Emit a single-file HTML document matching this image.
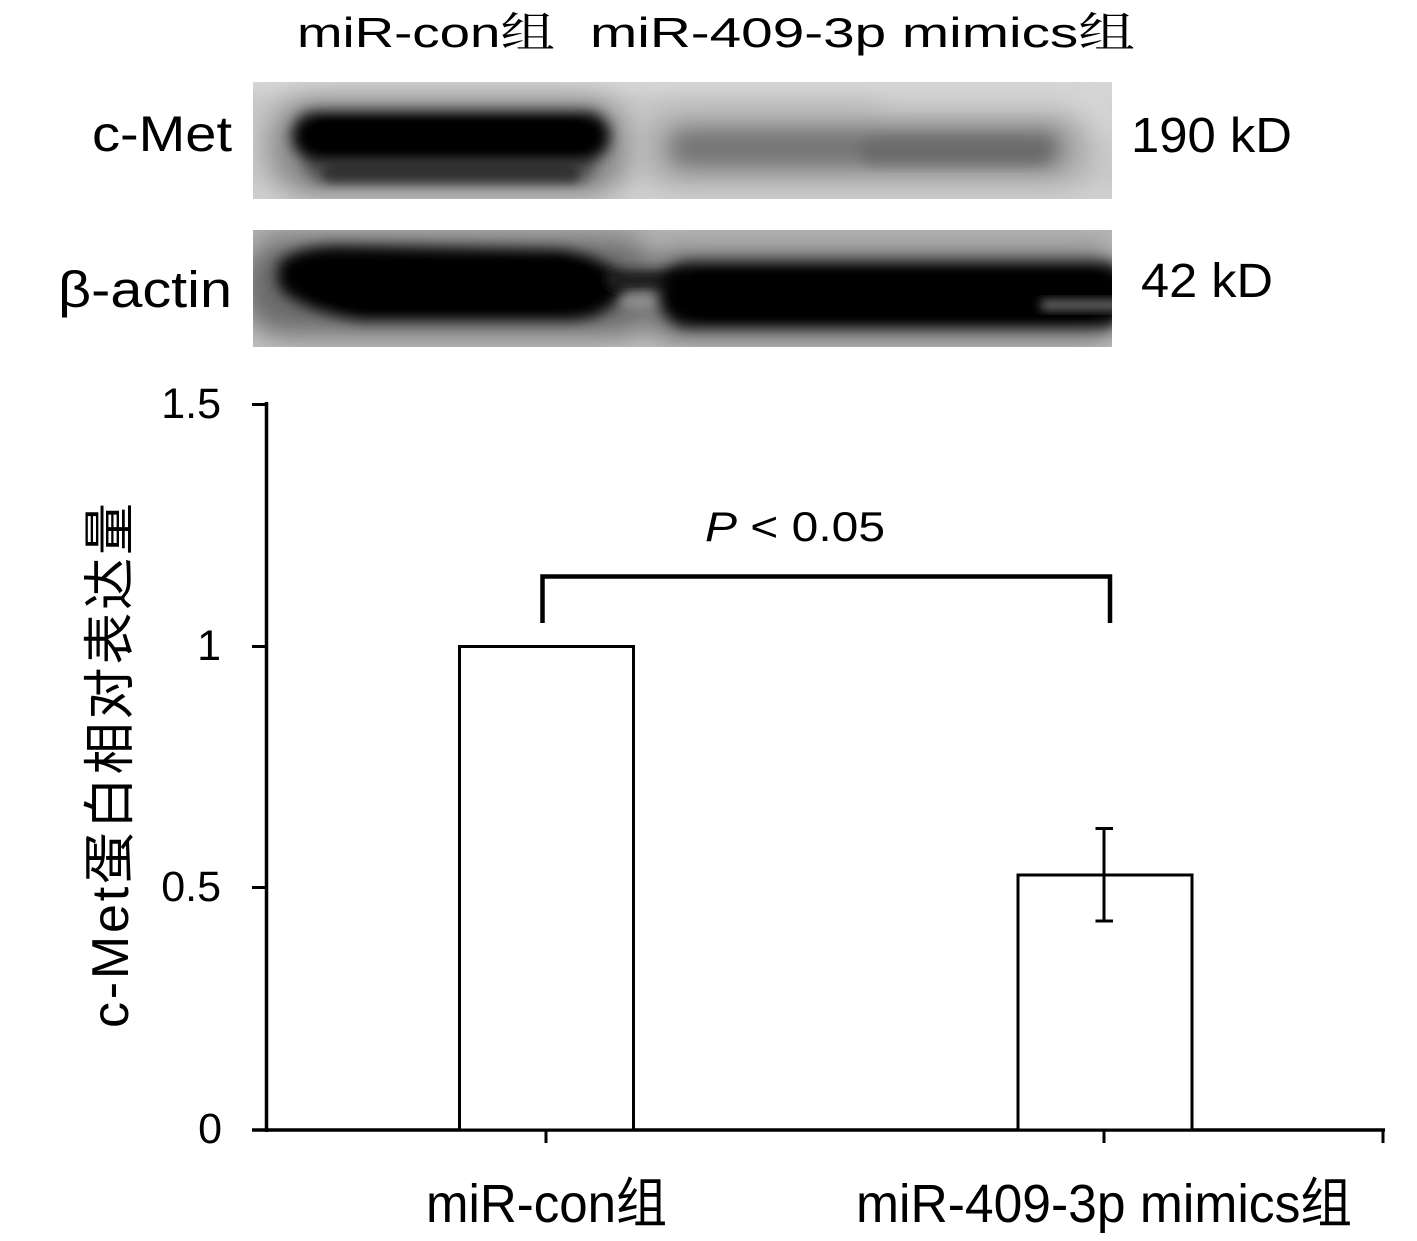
<!DOCTYPE html>
<html>
<head>
<meta charset="utf-8">
<style>
html,body{margin:0;padding:0;background:#fff;}
svg{display:block;}
text{font-family:"Liberation Sans","Noto Sans CJK SC",sans-serif;fill:#000;}
</style>
</head>
<body>
<svg width="1417" height="1241" viewBox="0 0 1417 1241" xmlns="http://www.w3.org/2000/svg">
<defs>
  <filter id="b3" x="-50%" y="-50%" width="200%" height="200%"><feGaussianBlur stdDeviation="3"/></filter>
  <filter id="b5" x="-50%" y="-50%" width="200%" height="200%"><feGaussianBlur stdDeviation="5"/></filter>
  <filter id="b7" x="-50%" y="-50%" width="200%" height="200%"><feGaussianBlur stdDeviation="7"/></filter>
  <filter id="b10" x="-50%" y="-50%" width="200%" height="200%"><feGaussianBlur stdDeviation="10"/></filter>
  <filter id="b14" x="-50%" y="-50%" width="200%" height="200%"><feGaussianBlur stdDeviation="14"/></filter>
  <clipPath id="c1"><rect x="253" y="82" width="859" height="117"/></clipPath>
  <clipPath id="c2"><rect x="253" y="230" width="859" height="117"/></clipPath>
</defs>

<!-- Top labels -->
<text x="297" y="47" font-size="42" textLength="258" lengthAdjust="spacingAndGlyphs">miR-con<tspan font-family="Noto Serif CJK SC, serif">组</tspan></text>
<text x="590" y="47" font-size="42" textLength="545" lengthAdjust="spacingAndGlyphs">miR-409-3p  mimics<tspan font-family="Noto Serif CJK SC, serif">组</tspan></text>

<!-- Row labels -->
<text x="92" y="151" font-size="50" textLength="140" lengthAdjust="spacingAndGlyphs">c-Met</text>
<text x="58" y="307" font-size="51" textLength="174" lengthAdjust="spacingAndGlyphs">β-actin</text>
<text x="1131" y="152" font-size="49" textLength="161" lengthAdjust="spacingAndGlyphs">190 kD</text>
<text x="1141" y="297" font-size="48" textLength="132" lengthAdjust="spacingAndGlyphs">42 kD</text>

<!-- c-Met blot -->
<g clip-path="url(#c1)">
  <rect x="253" y="82" width="859" height="117" fill="#c9c9c9"/>
  <rect x="240" y="70" width="900" height="24" fill="#d6d6d6" filter="url(#b7)"/>
  <rect x="880" y="80" width="240" height="60" fill="#d6d6d6" filter="url(#b14)"/>
  <rect x="240" y="186" width="900" height="22" fill="#d0d0d0" filter="url(#b7)"/>
  <rect x="268" y="98" width="362" height="98" rx="45" fill="#8a8a8a" filter="url(#b14)"/>
  <rect x="305" y="146" width="290" height="36" rx="16" fill="#555" filter="url(#b7)"/>
  <rect x="322" y="164" width="258" height="18" rx="9" fill="#333" filter="url(#b5)"/>
  <rect x="292" y="112" width="318" height="48" rx="24" fill="#000" filter="url(#b7)"/>
  <rect x="310" y="120" width="280" height="32" rx="16" fill="#000" filter="url(#b3)"/>
  <rect x="645" y="112" width="445" height="72" rx="34" fill="#a6a6a6" filter="url(#b14)"/>
  <rect x="670" y="130" width="392" height="36" rx="18" fill="#757575" filter="url(#b10)"/>
  <rect x="860" y="140" width="190" height="22" rx="11" fill="#6a6a6a" filter="url(#b7)"/>
</g>

<!-- beta-actin blot -->
<g clip-path="url(#c2)">
  <rect x="253" y="230" width="859" height="117" fill="#c4c4c4"/>
  <rect x="240" y="222" width="900" height="18" fill="#b4b4b4" filter="url(#b7)"/>
  <rect x="240" y="330" width="900" height="22" fill="#c2c2c2" filter="url(#b7)"/>
  <rect x="240" y="236" width="420" height="100" rx="45" fill="#6a6a6a" filter="url(#b14)"/>
  <rect x="640" y="248" width="490" height="92" rx="40" fill="#6a6a6a" filter="url(#b14)"/>
  <path d="M278 264 Q296 246 340 246 L560 250 Q614 258 624 285 Q614 318 570 320 L360 320 Q298 310 278 286 Z" fill="#000" filter="url(#b7)"/>
  <path d="M305 264 L560 260 Q598 266 602 285 Q596 306 560 310 L360 310 Q316 300 305 285 Z" fill="#000" filter="url(#b3)"/>
  <rect x="605" y="270" width="80" height="20" rx="10" fill="#1a1a1a" filter="url(#b5)"/>
  <ellipse cx="640" cy="302" rx="20" ry="7" fill="#8e8e8e" filter="url(#b5)"/>
  <rect x="660" y="263" width="470" height="64" rx="30" fill="#000" filter="url(#b7)"/>
  <rect x="685" y="272" width="420" height="46" rx="20" fill="#000" filter="url(#b3)"/>
  <rect x="1040" y="300" width="90" height="10" rx="5" fill="#6e6e6e" filter="url(#b5)"/>
</g>

<!-- Axes -->
<g stroke="#000" fill="none">
  <line x1="266.5" y1="402" x2="266.5" y2="1132" stroke-width="3.5"/>
  <line x1="252" y1="404.5" x2="268" y2="404.5" stroke-width="3"/>
  <line x1="252" y1="646.5" x2="268" y2="646.5" stroke-width="3"/>
  <line x1="252" y1="887.5" x2="268" y2="887.5" stroke-width="3"/>
  <line x1="252" y1="1130" x2="1385" y2="1130" stroke-width="3.5"/>
  <line x1="546" y1="1130" x2="546" y2="1143" stroke-width="3"/>
  <line x1="1104" y1="1130" x2="1104" y2="1143" stroke-width="3"/>
  <line x1="1383" y1="1130" x2="1383" y2="1143" stroke-width="3"/>

  <rect x="459.5" y="646.5" width="174" height="483.5" stroke-width="3" fill="#fff"/>
  <rect x="1018" y="875" width="174" height="255" stroke-width="3" fill="#fff"/>

  <line x1="1104" y1="828" x2="1104" y2="921" stroke-width="3"/>
  <line x1="1095.5" y1="828.5" x2="1113" y2="828.5" stroke-width="3"/>
  <line x1="1095.5" y1="921" x2="1113" y2="921" stroke-width="3"/>

  <path d="M542.5 623 V576.5 H1110 V623" stroke-width="4.5"/>
</g>

<!-- Y tick labels -->
<text x="221" y="418" font-size="43" text-anchor="end">1.5</text>
<text x="221" y="660" font-size="43" text-anchor="end">1</text>
<text x="221" y="901" font-size="43" text-anchor="end">0.5</text>
<text x="222" y="1143" font-size="43" text-anchor="end">0</text>

<!-- P value -->
<text x="705" y="541" font-size="42" textLength="180" lengthAdjust="spacingAndGlyphs"><tspan font-style="italic">P</tspan> &lt; 0.05</text>

<!-- X labels -->
<text x="546.5" y="1222" font-size="54" text-anchor="middle" textLength="241" lengthAdjust="spacingAndGlyphs">miR-con组</text>
<text x="1104" y="1222" font-size="54" text-anchor="middle" textLength="496" lengthAdjust="spacingAndGlyphs">miR-409-3p mimics组</text>

<!-- Y axis title -->
<text transform="translate(128,1028) rotate(-90)" font-size="52" textLength="525" lengthAdjust="spacing">c-Met蛋白相对表达量</text>
</svg>
</body>
</html>
